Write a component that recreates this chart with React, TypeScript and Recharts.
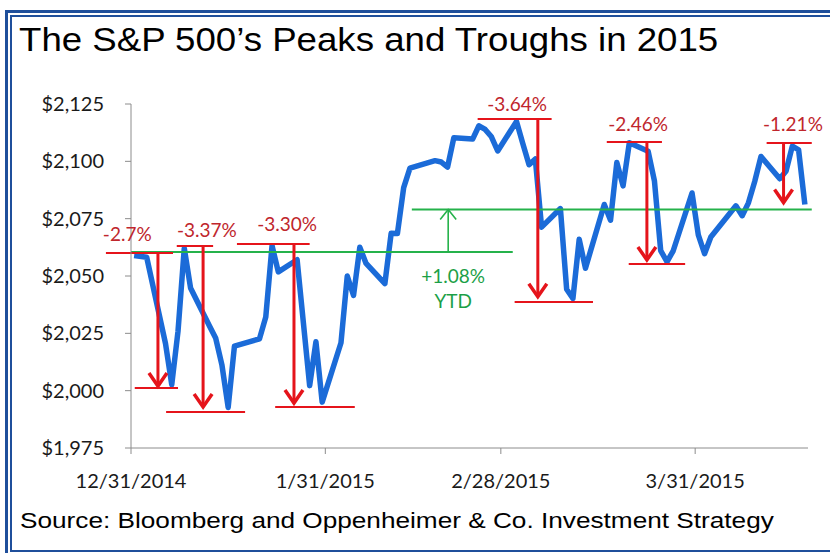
import React from "react";
import {
  LineChart,
  Line,
  XAxis,
  YAxis,
  ReferenceLine,
  ReferenceDot,
} from "recharts";

// daily S&P 500 closes
const tradeDates = [
  "12/31/2014", "1/2/2015", "1/5/2015", "1/6/2015", "1/7/2015", "1/8/2015", "1/9/2015",
  "1/12/2015", "1/13/2015", "1/14/2015", "1/15/2015", "1/16/2015", "1/20/2015", "1/21/2015",
  "1/22/2015", "1/23/2015", "1/26/2015", "1/27/2015", "1/28/2015", "1/29/2015", "1/30/2015",
  "2/2/2015", "2/3/2015", "2/4/2015", "2/5/2015", "2/6/2015", "2/9/2015", "2/10/2015",
  "2/11/2015", "2/12/2015", "2/13/2015", "2/17/2015", "2/18/2015", "2/19/2015", "2/20/2015",
  "2/23/2015", "2/24/2015", "2/25/2015", "2/26/2015", "2/27/2015", "3/2/2015", "3/3/2015",
  "3/4/2015", "3/5/2015", "3/6/2015", "3/9/2015", "3/10/2015", "3/11/2015", "3/12/2015",
  "3/13/2015", "3/16/2015", "3/17/2015", "3/18/2015", "3/19/2015", "3/20/2015", "3/23/2015",
  "3/24/2015", "3/25/2015", "3/26/2015", "3/27/2015", "3/30/2015", "3/31/2015", "4/1/2015",
  "4/2/2015", "4/6/2015", "4/7/2015", "4/8/2015", "4/9/2015", "4/10/2015", "4/13/2015",
  "4/14/2015", "4/15/2015", "4/16/2015", "4/17/2015",
];

const closes = [
  2058.9, 2058.2, 2020.6, 2002.6, 2025.9, 2062.1, 2044.8,
  2028.3, 2023.0, 2011.3, 1992.7, 2019.4, 2022.6, 2032.1,
  2063.2, 2051.8, 2057.1, 2029.6, 2002.2, 2021.3, 1995.0,
  2020.9, 2050.0, 2041.5, 2062.5, 2055.5, 2046.7, 2068.6,
  2068.5, 2088.5, 2097.0, 2100.3, 2099.7, 2097.5, 2110.3,
  2109.7, 2115.5, 2113.9, 2110.7, 2104.5, 2117.4, 2107.8,
  2098.5, 2101.0, 2071.3, 2079.4, 2044.2, 2040.2, 2066.0,
  2053.4, 2081.2, 2074.3, 2099.5, 2089.3, 2108.1, 2104.4,
  2091.5, 2061.1, 2056.2, 2061.0, 2086.2, 2067.9, 2059.7,
  2067.0, 2080.6, 2076.3, 2081.9, 2091.2, 2102.1, 2092.4,
  2095.8, 2106.6, 2105.0, 2081.2,
];

const xTickLabels = ["12/31/2014", "1/31/2015", "2/28/2015", "3/31/2015"];
const yTicks = [1975, 2000, 2025, 2050, 2075, 2100, 2125];

// drawdowns: label, label spot [day, level], peak line [from, to, level],
// arrow [day, top, tip], trough line [from, to, level]
const dropLabels = ["-2.7%", "-3.37%", "-3.30%", "-3.64%", "-2.46%", "-1.21%"];
const dropLabelSpots = [
  [-0.6, 2068.7], [12.1, 2070.1], [24.9, 2073.1],
  [61.6, 2125.4], [80.9, 2116.7], [105.6, 2116.7],
];
const peakLines = [
  [-4.0, 6.7, 2060.0], [7.3, 13.1, 2063.1], [16.9, 28.5, 2064.0],
  [55.3, 67.1, 2118.5], [75.9, 84.7, 2108.4], [101.4, 108.6, 2108.0],
];
const dropArrows = [
  [4.3, 2060.0, 2002.0], [11.5, 2063.1, 1992.9], [26.0, 2064.0, 1994.6],
  [64.9, 2118.5, 2041.0], [82.3, 2108.4, 2057.0], [104.1, 2108.0, 2082.0],
];
const troughLines = [
  [0.6, 7.5, 2001.2], [5.6, 18.2, 1990.7], [23.0, 35.7, 1992.9],
  [61.2, 73.7, 2038.7], [79.4, 88.4, 2055.2],
];

// year-to-date gain
const ytdStart = [0, 60.9, 2060.5];
const ytdEnd = [44.8, 108.6, 2079.0];
const ytdArrowDay = 50.6;
const ytdLabels = ["+1.08%", "YTD"];
const ytdLabelSpots = [[51.4, 2050.4], [51.4, 2039.5]];

const RED = "#e5141b";
const RED_TEXT = "#c0262c";
const GREEN = "#25b24b";
const GREEN_TEXT = "#1c9f47";
const BLUE = "#1b6bd8";
const FONT = "Lato, 'Open Sans', sans-serif";

const dayOf = (s: string) => {
  const [m, d, y] = s.split("/").map(Number);
  return Math.round((Date.UTC(y, m - 1, d) - Date.UTC(2014, 11, 31)) / 86400000);
};

// Excel date axis puts each point in the middle of its day
const rows = tradeDates.map((d, i) => ({ x: dayOf(d) + 0.5, close: closes[i] }));
const xTicks = xTickLabels.map(dayOf);

const textShape = (value: string, color: string) => (p: any) => (
  <text
    x={p.cx}
    y={p.cy}
    textAnchor="middle"
    dominantBaseline="central"
    fill={color}
    fontSize={19}
    fontFamily={FONT}
  >
    {value}
  </text>
);

const headDown = (p: any) => (
  <path
    d={`M${p.cx - 9},${p.cy - 13}L${p.cx},${p.cy}L${p.cx + 9},${p.cy - 13}`}
    stroke={RED}
    strokeWidth={3.5}
    fill="none"
  />
);

const headUp = (p: any) => (
  <path
    d={`M${p.cx - 8},${p.cy + 10}L${p.cx},${p.cy}L${p.cx + 8},${p.cy + 10}`}
    stroke={GREEN}
    strokeWidth={1.6}
    fill="none"
  />
);

export default function App() {
  return (
    <div
      style={{
        position: "fixed",
        left: 0,
        top: 0,
        width: 830,
        height: 553,
        overflow: "hidden",
        background: "#fff",
      }}
    >
      {/* double blue frame */}
      <div
        style={{
          position: "absolute",
          left: 5,
          top: 10,
          width: 1000,
          height: 560,
          border: "3px solid #1f4f9b",
          boxSizing: "border-box",
        }}
      />
      <div
        style={{
          position: "absolute",
          left: 10,
          top: 15,
          width: 1000,
          height: 537,
          border: "2px solid #1f4f9b",
          boxSizing: "border-box",
        }}
      />
      <div
        style={{
          position: "absolute",
          left: 19,
          top: 23,
          fontFamily: "'Liberation Sans', Arial, sans-serif",
          fontSize: 33,
          lineHeight: 1,
          whiteSpace: "nowrap",
          transform: "scaleX(1.11)",
          transformOrigin: "left top",
          color: "#000",
        }}
      >
        The S&amp;P 500’s Peaks and Troughs in 2015
      </div>
      <div
        style={{
          position: "absolute",
          left: 20,
          top: 510,
          fontFamily: "'Liberation Sans', Arial, sans-serif",
          fontSize: 22,
          lineHeight: 1,
          whiteSpace: "nowrap",
          transform: "scaleX(1.19)",
          transformOrigin: "left top",
          color: "#000",
        }}
      >
        Source: Bloomberg and Oppenheimer &amp; Co. Investment Strategy
      </div>
      <div style={{ position: "absolute", left: 0, top: 0 }}>
        <LineChart
          width={830}
          height={553}
          data={rows}
          margin={{ top: 104, right: 22, bottom: 75, left: 31 }}
        >
          <XAxis
            dataKey="x"
            type="number"
            domain={[0, 108]}
            ticks={xTicks}
            tickFormatter={(v) => xTickLabels[xTicks.indexOf(v)]}
            allowDataOverflow
            height={30}
            stroke="#8c8c8c"
            tickSize={6}
            tickMargin={20}
            tick={{ fill: "#1a1a1a", fontSize: 20, fontFamily: FONT }}
          />
          <YAxis
            width={100}
            domain={[1975, 2125]}
            ticks={yTicks}
            allowDataOverflow
            tickFormatter={(v) => `$${v.toLocaleString("en-US")}`}
            stroke="#8c8c8c"
            tickSize={6}
            tickMargin={21}
            tick={{ fill: "#1a1a1a", fontSize: 20, fontFamily: FONT }}
          />
          <Line
            dataKey="close"
            stroke={BLUE}
            strokeWidth={5.5}
            strokeLinejoin="round"
            dot={false}
            isAnimationActive={false}
          />

          {/* year-to-date band */}
          <ReferenceLine
            segment={[{ x: ytdStart[0], y: ytdStart[2] }, { x: ytdStart[1], y: ytdStart[2] }]}
            stroke={GREEN}
            strokeWidth={2}
            ifOverflow="visible"
          />
          <ReferenceLine
            segment={[{ x: ytdEnd[0], y: ytdEnd[2] }, { x: ytdEnd[1], y: ytdEnd[2] }]}
            stroke={GREEN}
            strokeWidth={2}
            ifOverflow="visible"
          />
          <ReferenceLine
            segment={[{ x: ytdArrowDay, y: ytdStart[2] }, { x: ytdArrowDay, y: ytdEnd[2] }]}
            stroke={GREEN}
            strokeWidth={1.6}
            ifOverflow="visible"
          />
          <ReferenceDot x={ytdArrowDay} y={ytdEnd[2]} r={0} ifOverflow="visible" shape={headUp} />
          {ytdLabels.map((t, i) => (
            <ReferenceDot
              key={t}
              x={ytdLabelSpots[i][0]}
              y={ytdLabelSpots[i][1]}
              r={0}
              ifOverflow="visible"
              shape={textShape(t, GREEN_TEXT)}
            />
          ))}

          {/* drawdowns */}
          {peakLines.map(([a, b, v], i) => (
            <ReferenceLine
              key={`p${i}`}
              segment={[{ x: a, y: v }, { x: b, y: v }]}
              stroke={RED}
              strokeWidth={2}
              ifOverflow="visible"
            />
          ))}
          {troughLines.map(([a, b, v], i) => (
            <ReferenceLine
              key={`t${i}`}
              segment={[{ x: a, y: v }, { x: b, y: v }]}
              stroke={RED}
              strokeWidth={2}
              ifOverflow="visible"
            />
          ))}
          {dropArrows.map(([d, top, tip], i) => (
            <ReferenceLine
              key={`a${i}`}
              segment={[{ x: d, y: top }, { x: d, y: tip }]}
              stroke={RED}
              strokeWidth={3}
              ifOverflow="visible"
            />
          ))}
          {dropArrows.map(([d, , tip], i) => (
            <ReferenceDot
              key={`h${i}`}
              x={d}
              y={tip}
              r={0}
              ifOverflow="visible"
              shape={headDown}
            />
          ))}
          {dropLabels.map((t, i) => (
            <ReferenceDot
              key={t}
              x={dropLabelSpots[i][0]}
              y={dropLabelSpots[i][1]}
              r={0}
              ifOverflow="visible"
              shape={textShape(t, RED_TEXT)}
            />
          ))}
        </LineChart>
      </div>
    </div>
  );
}
